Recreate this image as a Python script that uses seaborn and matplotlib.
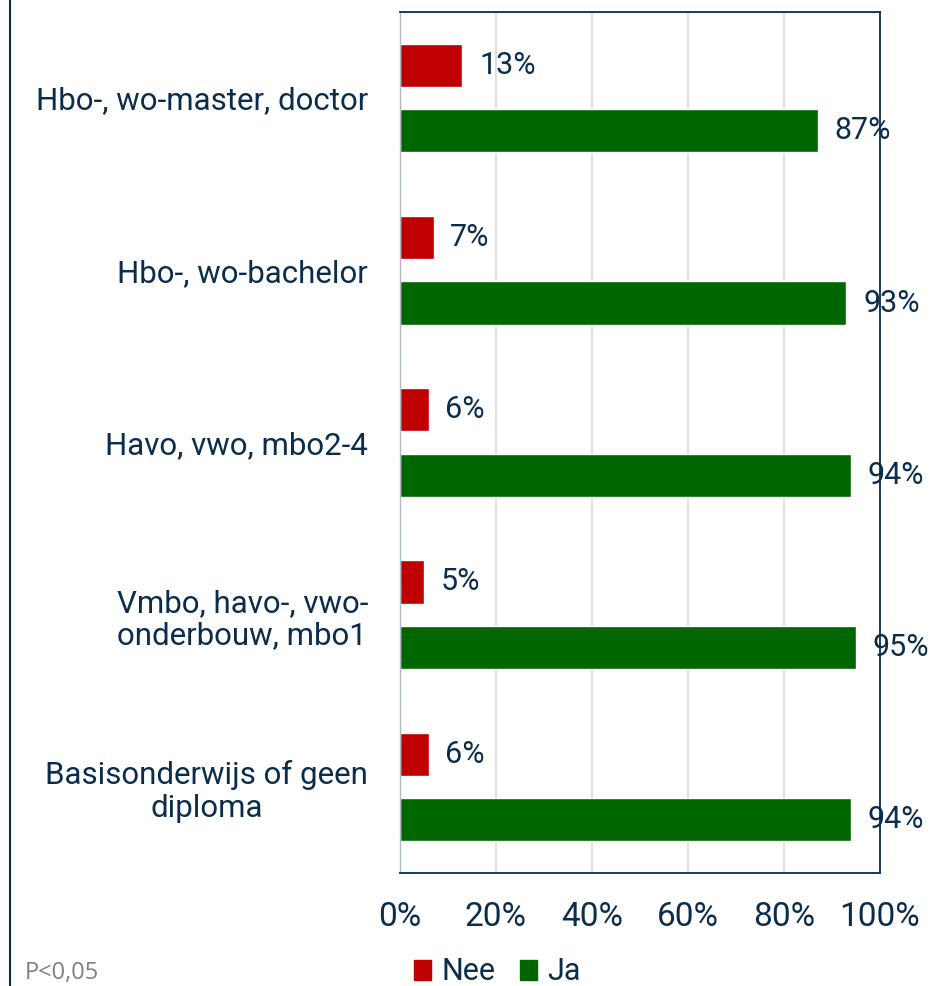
import matplotlib
matplotlib.use("Agg")
import matplotlib.pyplot as plt
from matplotlib.lines import Line2D
import seaborn as sns
import pandas as pd

# data
categories = [
    "Hbo-, wo-master, doctor",
    "Hbo-, wo-bachelor",
    "Havo, vwo, mbo2-4",
    "Vmbo, havo-, vwo-\nonderbouw, mbo1",
    "Basisonderwijs of geen\ndiploma",
]
nee = [13, 7, 6, 5, 6]
ja = [87, 93, 94, 95, 94]
series = ["Nee", "Ja"]
ticks = [0, 20, 40, 60, 80, 100]
note = "P<0,05"

navy = "#0b2d4d"
colors = {"Nee": "#c00000", "Ja": "#006600"}

df = pd.DataFrame({
    "cat": categories * 2,
    "serie": ["Nee"] * len(categories) + ["Ja"] * len(categories),
    "val": nee + ja,
})

sns.set_style("white")
plt.rcParams["font.family"] = ["Roboto", "DejaVu Sans"]

fig = plt.figure(figsize=(9.34, 9.86), dpi=100)
ax = fig.add_axes([400 / 934, 1 - 873 / 986, 480 / 934, 861 / 986])

sns.barplot(data=df, x="val", y="cat", hue="serie", hue_order=series,
            palette=colors, orient="h", width=0.76, gap=0.34,
            saturation=1, ax=ax, legend=False)

ax.set_xlim(0, 100)
ax.set_ylim(4.5, -0.5)
ax.set_xticks(ticks)
ax.set_xticklabels([f"{t}%" for t in ticks])
ax.set_xlabel("")
ax.set_ylabel("")
ax.xaxis.grid(True, color="#d9d9d9", linewidth=1.2)
ax.set_axisbelow(True)
ax.tick_params(axis="x", length=0, pad=20, labelsize=24, labelcolor=navy)
ax.tick_params(axis="y", length=0, pad=23, labelsize=22.5, labelcolor=navy)
for lbl in ax.get_yticklabels():
    lbl.set_multialignment("center")
    lbl.set_linespacing(1.15)

for side in ["top", "right", "bottom"]:
    ax.spines[side].set_color(navy)
    ax.spines[side].set_linewidth(1.3)
ax.spines["left"].set_color("#b0b8c0")
ax.spines["left"].set_linewidth(1.0)

# value labels
for cont in ax.containers:
    ax.bar_label(cont, labels=[f"{v:.0f}%" for v in cont.datavalues],
                 padding=12, fontsize=22, color=navy, clip_on=False)

# legend
handles = [plt.Rectangle((0, 0), 1, 1, color=colors[s]) for s in series]
fig.legend(handles, series, loc="center left",
           bbox_to_anchor=(402 / 934, 1 - 972 / 986), ncol=2, frameon=False,
           fontsize=22, labelcolor=navy, handlelength=0.55, handleheight=0.65,
           handletextpad=0.35, columnspacing=0.8, borderaxespad=0)

fig.text(25 / 934, 1 - 973 / 986, note, fontsize=17, color="#808080",
         va="center", ha="left", family=["Open Sans", "DejaVu Sans"])

fig.add_artist(Line2D([10 / 934, 10 / 934], [0, 1], color=navy,
                      linewidth=1.5, transform=fig.transFigure))

fig.savefig("out.png", dpi=100)
